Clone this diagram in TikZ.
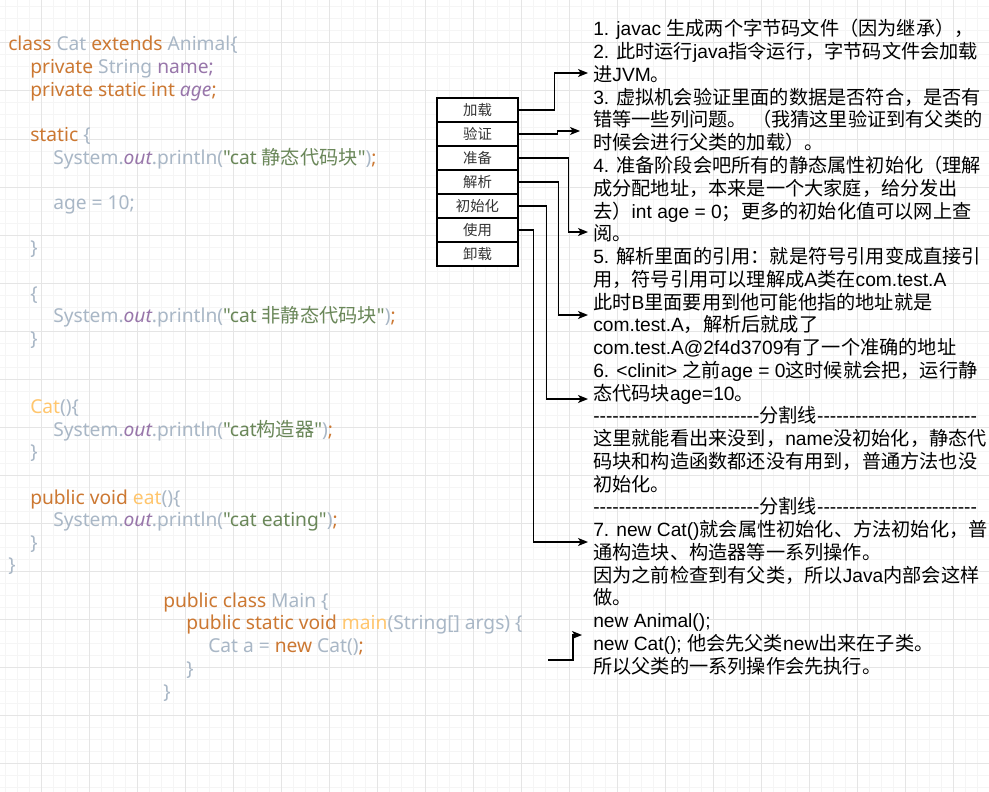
\documentclass[tikz,border=0pt]{standalone}
\usepackage{fontspec}
\usepackage{tikz}
\usetikzlibrary{arrows.meta}

\newfontfamily\notefont{Liberation Sans}
\newfontfamily\codefont{Noto Sans}
\newfontfamily\hanfont{Noto Sans CJK SC}

\newcommand\latfont{\notefont}
\XeTeXinterchartokenstate=1
\newXeTeXintercharclass\HanCls
\newcount\hanidx
\newcommand\markhan[2]{\hanidx=#1\relax
  \loop\XeTeXcharclass\hanidx=\HanCls\relax
  \ifnum\hanidx<#2\relax\advance\hanidx by 1\repeat}
\markhan{"3000}{"303F}
\markhan{"4E00}{"9FFF}
\markhan{"FF00}{"FFEF}
\XeTeXinterchartoks 0 \HanCls = {\hanfont}
\XeTeXinterchartoks 4095 \HanCls = {\hanfont}
\XeTeXinterchartoks \HanCls 0 = {\latfont}
\XeTeXinterchartoks \HanCls 4095 = {\latfont}

\definecolor{kwd}{HTML}{CC7832}
\definecolor{pln}{HTML}{A9B7C6}
\definecolor{fld}{HTML}{9876AA}
\definecolor{strg}{HTML}{6A8759}
\definecolor{fnc}{HTML}{FFC66D}
\definecolor{gridmajor}{RGB}{229,229,229}
\definecolor{gridminor}{RGB}{245,245,245}

\newcommand\kw[1]{\textcolor{kwd}{#1}}
\newcommand\pl[1]{\textcolor{pln}{#1}}
\newcommand\fd[1]{\textcolor{fld}{#1}}
\newcommand\st[1]{\textcolor{strg}{#1}}
\newcommand\fn[1]{\textcolor{fnc}{#1}}
\newcommand\codesetup{\let\latfont\codefont\codefont\fontsize{14.4pt}{17pt}\selectfont}
\newcommand\notesetup{\let\latfont\notefont\notefont\fontsize{14.4pt}{17pt}\selectfont}
\newcommand\boxsetup{\hanfont\fontsize{10.8pt}{12pt}\selectfont}
\newcommand\dashrun[1]{\foreach\k in {1,...,#1}{-}}

\begin{document}
\begin{tikzpicture}[x=0.75pt,y=-0.75pt]
\tikzstyle{every node}+=[inner sep=0pt]
\tikzstyle{codeline}=[anchor=base west, font=\codesetup]
\tikzstyle{noteline}=[anchor=base west, font=\notesetup, text=black]
\tikzstyle{stage}=[draw=black, line width=0.9pt, fill=white, text={rgb,255:red,51;green,51;blue,51},
  minimum width=60.75pt, minimum height=18pt, font=\boxsetup]
\tikzstyle{flow}=[draw=black, line width=1pt, -{Stealth[length=7.5pt,width=6pt,inset=2pt]}]
\useasboundingbox (0,0) rectangle (989,792);
\fill[white] (0,0) rectangle (989,792);
\foreach \gx in {5,17,...,989} \draw[gridminor, line width=0.75pt] (\gx,0) -- (\gx,792);
\foreach \gy in {7,19,...,792} \draw[gridminor, line width=0.75pt] (0,\gy) -- (989,\gy);
\foreach \gx in {41,89,...,989} \draw[gridmajor, line width=0.75pt] (\gx,0) -- (\gx,792);
\foreach \gy in {43,91,...,792} \draw[gridmajor, line width=0.75pt] (0,\gy) -- (989,\gy);

\node[codeline] (c1) at (8,51) {\kw{class} \pl{Cat} \kw{extends} \pl{Animal\{}};
\node[codeline] (c2) at (30,73.65) {\kw{private} \pl{String} \fd{name;}};
\node[codeline] (c3) at (30,96.3) {\kw{private static int} \fd{\itshape age}\kw{;}};
\node[codeline] (c4) at (30,141.6) {\kw{static} \pl{\{}};
\node[codeline] (c5) at (53,164.25) {\pl{System.}\fd{\itshape out}\pl{.println(}\st{"cat 静态代码块"}\pl{)}\kw{;}};
\node[codeline] (c6) at (53,209.55) {\pl{age = 10;}};
\node[codeline] (c7) at (30,254.85) {\pl{\}}};
\node[codeline] (c8) at (30,300.15) {\pl{\{}};
\node[codeline] (c9) at (53,322.8) {\pl{System.}\fd{\itshape out}\pl{.println(}\st{"cat 非静态代码块"}\pl{)}\kw{;}};
\node[codeline] (c10) at (30,345.45) {\pl{\}}};
\node[codeline] (c11) at (30,413.4) {\fn{Cat}\pl{()\{}};
\node[codeline] (c12) at (53,436.05) {\pl{System.}\fd{\itshape out}\pl{.println(}\st{"cat构造器"}\pl{)}\kw{;}};
\node[codeline] (c13) at (30,458.7) {\pl{\}}};
\node[codeline] (c14) at (30,504) {\kw{public void} \fn{eat}\pl{()\{}};
\node[codeline] (c15) at (53,526.65) {\pl{System.}\fd{\itshape out}\pl{.println(}\st{"cat eating"}\pl{)}\kw{;}};
\node[codeline] (c16) at (30,549.3) {\pl{\}}};
\node[codeline] (c17) at (8,571.95) {\pl{\}}};
\node[codeline] (m1) at (163,607) {\kw{public class} \pl{Main \{}};
\node[codeline] (m2) at (186,629.75) {\kw{public static void} \fn{main}\pl{(String[] args) \{}};
\node[codeline] (m3) at (208,652.5) {\pl{Cat a =} \kw{new} \pl{Cat()}\kw{;}};
\node[codeline] (m4) at (186,675.25) {\pl{\}}};
\node[codeline] (m5) at (163,698) {\pl{\}}};

\node[stage] (jz) at (477.5,110) {加载};
\node[stage] (yz) at (477.5,134) {验证};
\node[stage] (zb) at (477.5,158) {准备};
\node[stage] (jx) at (477.5,182) {解析};
\node[stage] (csh) at (477.5,206) {初始化};
\node[stage] (sy) at (477.5,230) {使用};
\node[stage] (xz) at (477.5,254) {卸载};

\node[noteline] (n1) at (593,36) {1. javac 生成两个字节码文件（因为继承），};
\node[noteline] (n2) at (593,58.75) {2. 此时运行java指令运行，字节码文件会加载};
\node[noteline] (n3) at (593,81.5) {进JVM。};
\node[noteline] (n4) at (593,104.25) {3. 虚拟机会验证里面的数据是否符合，是否有};
\node[noteline] (n5) at (593,127) {错等一些列问题。 （我猜这里验证到有父类的};
\node[noteline] (n6) at (593,149.75) {时候会进行父类的加载）。};
\node[noteline] (n7) at (593,172.5) {4. 准备阶段会吧所有的静态属性初始化（理解};
\node[noteline] (n8) at (593,195.25) {成分配地址，本来是一个大家庭，给分发出};
\node[noteline] (n9) at (593,218) {去）int age = 0；更多的初始化值可以网上查};
\node[noteline] (n10) at (593,240.75) {阅。};
\node[noteline] (n11) at (593,263.5) {5. 解析里面的引用：就是符号引用变成直接引};
\node[noteline] (n12) at (593,286.25) {用，符号引用可以理解成A类在com.test.A};
\node[noteline] (n13) at (593,309) {此时B里面要用到他可能他指的地址就是};
\node[noteline] (n14) at (593,331.75) {com.test.A，解析后就成了};
\node[noteline] (n15) at (593,354.5) {com.test.A@2f4d3709有了一个准确的地址};
\node[noteline] (n16) at (593,377.25) {6. <clinit> 之前age = 0这时候就会把，运行静};
\node[noteline] (n17) at (593,400) {态代码块age=10。};
\node[noteline] (n18) at (593,422.75) {\dashrun{26}分割线\dashrun{25}};
\node[noteline] (n19) at (593,445.5) {这里就能看出来没到，name没初始化，静态代};
\node[noteline] (n20) at (593,468.25) {码块和构造函数都还没有用到，普通方法也没};
\node[noteline] (n21) at (593,491) {初始化。};
\node[noteline] (n22) at (593,513.75) {\dashrun{26}分割线\dashrun{25}};
\node[noteline] (n23) at (593,536.5) {7. new Cat()就会属性初始化、方法初始化，普};
\node[noteline] (n24) at (593,559.25) {通构造块、构造器等一系列操作。};
\node[noteline] (n25) at (593,582) {因为之前检查到有父类，所以Java内部会这样};
\node[noteline] (n26) at (593,604.75) {做。};
\node[noteline] (n27) at (593,627.5) {new Animal();};
\node[noteline] (n28) at (593,650.25) {new Cat(); 他会先父类new出来在子类。};
\node[noteline] (n29) at (593,673) {所以父类的一系列操作会先执行。};

\coordinate (e1) at (588,73);
\coordinate (e2) at (580,131);
\coordinate (e3) at (588,232);
\coordinate (e4) at (588,315);
\coordinate (e5) at (588,399);
\coordinate (e6) at (588,542);
\coordinate (s7) at (548,660);
\coordinate (e7) at (582,635);
\draw[flow] (jz.east) -- ++(36,0) |- (e1);
\draw[flow] (yz.east) -- ++(39,0) |- (e2);
\draw[flow] (zb.east) -- ++(50,0) |- (e3);
\draw[flow] (jx.east) -- ++(40,0) |- (e4);
\draw[flow] (csh.east) -- ++(28,0) |- (e5);
\draw[flow] (sy.east) -- ++(15,0) |- (e6);
\draw[flow] (s7) -- ++(25,0) |- (e7);
\end{tikzpicture}
\end{document}
